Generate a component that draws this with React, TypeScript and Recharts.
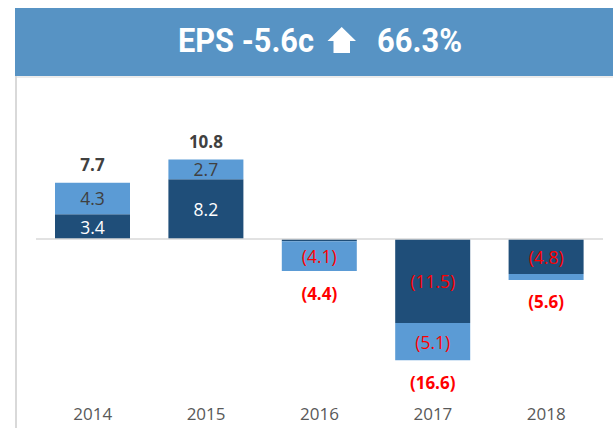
import { BarChart, Bar, XAxis, YAxis, ReferenceLine, LabelList } from 'recharts';

const years = ['2014', '2015', '2016', '2017', '2018'];
const darkValues = [3.4, 8.2, -0.3, -11.5, -4.8];
const lightValues = [4.3, 2.7, -4.1, -5.1, -0.8];
const totals = [7.7, 10.8, -4.4, -16.6, -5.6];

const data = years.map((year, i) => ({
  year,
  dark: darkValues[i],
  light: lightValues[i],
  total: totals[i],
}));

const DARK = '#1F4E79';
const LIGHT = '#5B9BD5';
const RED = '#FF0000';
const FONT = "'Open Sans', 'Liberation Sans', sans-serif";
const TITLE_FONT = "Roboto, 'Liberation Sans', sans-serif";

const fmt = (v: number) => (v < 0 ? `(${Math.abs(v).toFixed(1)})` : v.toFixed(1));

function makeInsideLabel(posColor: string) {
  return (props: any) => {
    const { x, y, width, height, value } = props;
    const v = Number(value);
    if (!isFinite(v) || Math.abs(v) < 1) return null;
    return (
      <text
        x={x + width / 2}
        y={y + height / 2}
        textAnchor="middle"
        dominantBaseline="central"
        fill={v < 0 ? RED : posColor}
        fontSize={17.5}
        fontFamily={FONT}
      >
        {fmt(v)}
      </text>
    );
  };
}

function TotalLabel(props: any) {
  const { x, y, width, height, value, index } = props;
  const v = typeof value === 'number' ? value : totals[index];
  const top = Math.min(y, y + height);
  const bottom = Math.max(y, y + height);
  const cy = v >= 0 ? top - 18 : bottom + 22;
  return (
    <text
      x={x + width / 2}
      y={cy}
      textAnchor="middle"
      dominantBaseline="central"
      fill={v < 0 ? RED : '#404040'}
      fontSize={17}
      fontWeight="bold"
      fontFamily={FONT}
    >
      {fmt(v)}
    </text>
  );
}

export default function App() {
  return (
    <div style={{ position: 'absolute', left: 0, top: 0, width: 613, height: 428, background: '#fff' }}>
      {/* title banner */}
      <svg width={613} height={428} style={{ position: 'absolute', left: 0, top: 0 }}>
        <rect x={15} y={8} width={598} height={68} fill="#5793C4" />
        <line x1={16} y1={77} x2={613} y2={77} stroke="#D9D9D9" strokeWidth={1} />
        <line x1={16} y1={76} x2={16} y2={428} stroke="#D9D9D9" strokeWidth={2} />
        <text
          x={178}
          y={52}
          fill="#fff"
          fontSize={33}
          fontWeight="bold"
          fontFamily={TITLE_FONT}
          textLength={136}
          lengthAdjust="spacingAndGlyphs"
        >
          EPS -5.6c
        </text>
        <polygon
          points="341.7,27 356,41 350,41 350,53 333.5,53 333.5,41 327.5,41"
          fill="#fff"
        />
        <text
          x={377}
          y={52}
          fill="#fff"
          fontSize={33}
          fontWeight="bold"
          fontFamily={TITLE_FONT}
          textLength={85}
          lengthAdjust="spacingAndGlyphs"
        >
          66.3%
        </text>
      </svg>
      <div style={{ position: 'absolute', left: 0, top: 0 }}>
        <BarChart
          width={613}
          height={428}
          data={data}
          margin={{ top: 93, right: 10, bottom: 13, left: 36 }}
          stackOffset="sign"
        >
          <XAxis
            dataKey="year"
            height={30}
            axisLine={false}
            tickLine={false}
            tickMargin={17}
            tick={{ fill: '#595959', fontSize: 17, fontFamily: FONT }}
          />
          <YAxis hide domain={[-20, 20]} width={0} />
          <ReferenceLine y={0} stroke="#D9D9D9" strokeWidth={1.5} />
          <Bar dataKey="dark" stackId="eps" fill={DARK} barSize={75} isAnimationActive={false}>
            <LabelList dataKey="dark" content={makeInsideLabel('#ffffff')} />
          </Bar>
          <Bar dataKey="light" stackId="eps" fill={LIGHT} barSize={75} isAnimationActive={false}>
            <LabelList dataKey="light" content={makeInsideLabel('#404040')} />
            <LabelList dataKey="total" content={TotalLabel} />
          </Bar>
        </BarChart>
      </div>
    </div>
  );
}
